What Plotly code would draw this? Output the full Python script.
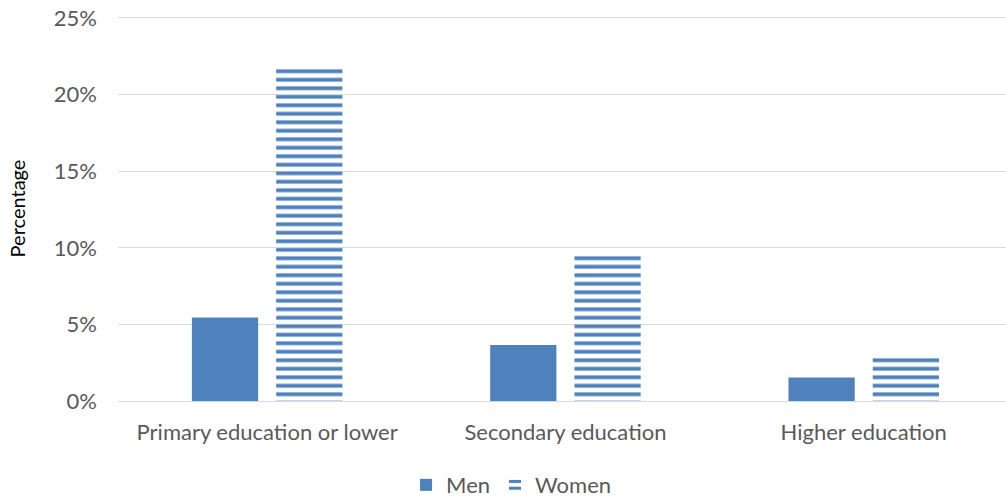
import plotly.graph_objects as go

categories = ["Primary education or lower", "Secondary education", "Higher education"]
men = [0.0545, 0.0366, 0.0154]
women = [0.2186, 0.0951, 0.0292]

blue = "#4f81bd"
grey = "#595959"

fig = go.Figure()
fig.add_trace(go.Bar(name="Men", x=categories, y=men, marker_color=blue, marker_line_width=0))
fig.add_trace(go.Bar(
    name="Women", x=categories, y=women,
    marker=dict(color="white", line_width=0,
                pattern=dict(shape="-", fgcolor=blue, bgcolor="white",
                             size=8.5, solidity=0.45, fillmode="replace")),
))

# the original plot area runs past the right edge, so the x range is cut short
# y range runs a little past 25% so that gridline is not dropped at the plot edge
fig.update_layout(
    width=1006, height=498,
    margin=dict(l=118, r=0, t=16, b=97, autoexpand=False),
    barmode="group", bargap=0.435, bargroupgap=0.214,
    plot_bgcolor="white", paper_bgcolor="white",
    font=dict(family="Lato, Open Sans, sans-serif", size=22, color=grey),
    legend=dict(orientation="h", x=0.508, xanchor="center", yref="container", y=0.026,
                xref="container", yanchor="middle", font=dict(size=22, color=grey)),
    xaxis=dict(range=[-0.5, 2.477], showline=False, ticks="", ticklabelstandoff=16,
               tickfont=dict(size=22, color=grey)),
    yaxis=dict(range=[0, 0.2513], dtick=0.05, tickformat=".0%", showgrid=True,
               gridcolor="#d9d9d9", zeroline=True, zerolinecolor="#d9d9d9", zerolinewidth=1,
               ticklabelstandoff=20,
               title=dict(text="Percentage", font=dict(size=20, color="black"), standoff=22),
               tickfont=dict(size=22, color=grey)),
)

# drop the default body margin so the figure sits at the window corner
fig.write_html("out.html", config={"displayModeBar": False},
               post_script="document.body.style.margin='0px';")
